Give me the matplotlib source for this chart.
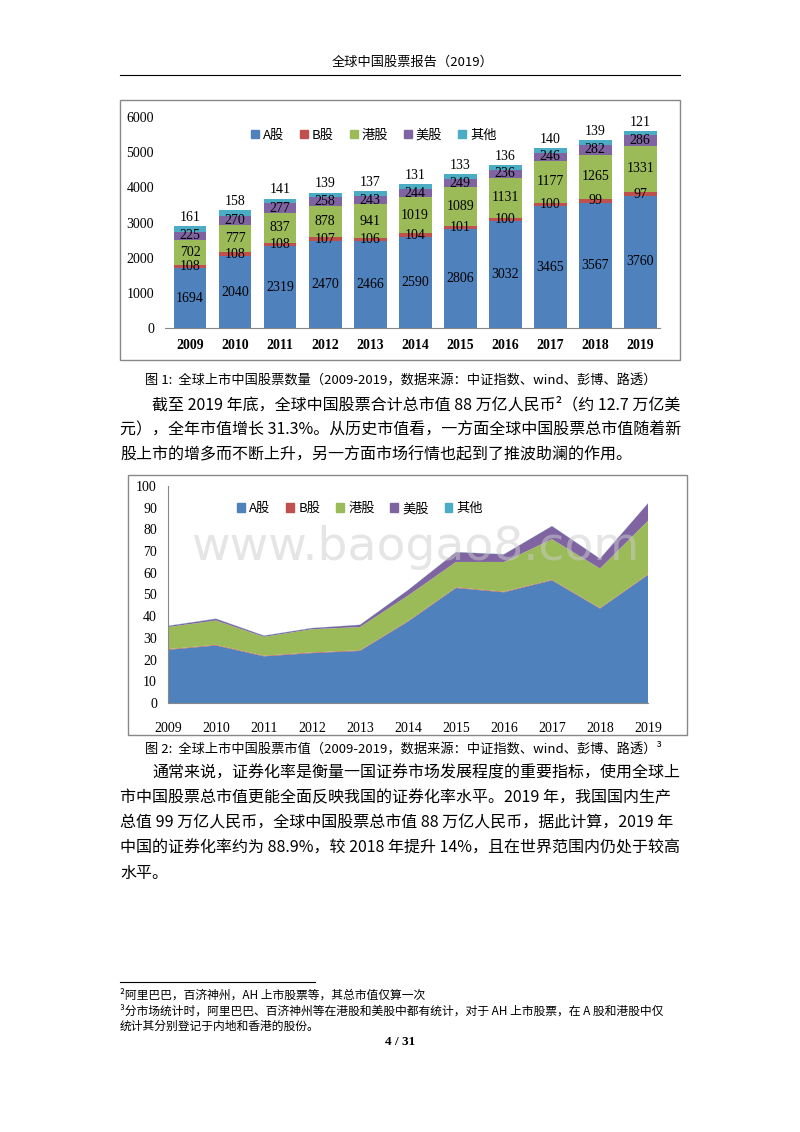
import matplotlib
matplotlib.use("Agg")
import matplotlib.pyplot as plt
from matplotlib.patches import Rectangle, Patch
import numpy as np

years = ["2009","2010","2011","2012","2013","2014","2015","2016","2017","2018","2019"]
series_names = ["A股","B股","港股","美股","其他"]
cnt_a = [1694,2040,2319,2470,2466,2590,2806,3032,3465,3567,3760]
cnt_b = [108,108,108,107,106,104,101,100,100,99,97]
cnt_hk = [702,777,837,878,941,1019,1089,1131,1177,1265,1331]
cnt_us = [225,270,277,258,243,244,249,236,246,282,286]
cnt_other = [161,158,141,139,137,131,133,136,140,139,121]

cap_a = [24.5,26.5,21.5,23,24,37.5,53,51,56.5,43.5,59]
cap_b = [0.3,0.3,0.3,0.3,0.3,0.3,0.3,0.3,0.3,0.3,0.3]
cap_hk = [10.2,11.2,8.7,10.7,10.7,11.7,11.7,13.7,18.7,18.2,24.7]
cap_us = [0.5,0.8,0.5,0.5,1.0,2.5,4.5,3.5,6.0,4.5,8.0]
cap_other = [0.1,0.1,0.1,0.1,0.1,0.1,0.1,0.1,0.1,0.1,0.1]

colors = ["#4F81BD","#C0504D","#9BBB59","#8064A2","#4BACC6"]
CJK = "Noto Sans CJK SC"
SERIF = "Liberation Serif"
W, H = 800, 1132
fig = plt.figure(figsize=(8, 11.32), dpi=100)

def fx(x): return x / W
def fy(y): return 1 - y / H
def t(x, y, s, **kw):
    kw.setdefault("fontfamily", CJK)
    kw.setdefault("fontsize", 10.5)
    kw.setdefault("va", "center")
    fig.text(fx(x), fy(y), s, **kw)

# header
t(413, 62, "全球中国股票报告（2019）", ha="center", fontsize=9.5)
fig.add_artist(plt.Line2D([fx(120), fx(680)], [fy(75), fy(75)], color="black", lw=0.8))

# frames
fig.add_artist(Rectangle((fx(120), fy(360)), fx(560), 260/H, fill=False, ec="#888888", lw=1))
fig.add_artist(Rectangle((fx(128), fy(735)), fx(559), 260/H, fill=False, ec="#888888", lw=1))

# chart 1
ax1 = fig.add_axes([fx(165), fy(328), fx(495), 211/H])
x = np.arange(len(years))
vals = [cnt_a, cnt_b, cnt_hk, cnt_us, cnt_other]
bottom = np.zeros(len(years))
for i, (v, c) in enumerate(zip(vals, colors)):
    v = np.array(v, dtype=float)
    ax1.bar(x, v, 0.73, bottom=bottom, color=c, label=series_names[i])
    for xi, b, vi in zip(x, bottom, v):
        if i == 4:
            ax1.text(xi, b + vi + 60, str(int(vi)), ha="center", va="bottom", fontfamily=SERIF, fontsize=10)
        else:
            ax1.text(xi, b + vi / 2, str(int(vi)), ha="center", va="center", fontfamily=SERIF, fontsize=10)
    bottom += v
ax1.set_xlim(-0.556, 10.44)
ax1.set_ylim(0, 6000)
ax1.set_yticks(range(0, 6001, 1000))
ax1.set_xticks(x)
ax1.set_xticklabels(years, fontfamily=SERIF, fontweight="bold", fontsize=10)
for lab in ax1.get_yticklabels():
    lab.set_fontfamily(SERIF); lab.set_fontsize(10)
ax1.tick_params(length=0, pad=8)
for s in ["top","right","left"]:
    ax1.spines[s].set_visible(False)
ax1.spines["bottom"].set_color("#888888")
ax1.legend(handles=[Patch(color=c, label=n) for c, n in zip(colors, series_names)],
           loc="upper left", bbox_to_anchor=(0.15, 1.0), ncol=5, frameon=False,
           prop={"family": CJK, "size": 9.5}, handlelength=0.6, handleheight=0.6,
           columnspacing=1.2, handletextpad=0.3)

# captions / text
t(145, 381, "图 1:  全球上市中国股票数量（2009-2019，数据来源：中证指数、wind、彭博、路透）", fontsize=9.5)
t(152, 405, "截至 2019 年底，全球中国股票合计总市值 88 万亿人民币²（约 12.7 万亿美", fontsize=11.5)
t(120, 430, "元），全年市值增长 31.3%。从历史市值看，一方面全球中国股票总市值随着新", fontsize=11.5)
t(120, 455, "股上市的增多而不断上升，另一方面市场行情也起到了推波助澜的作用。", fontsize=11.5)

# chart 2
ax2 = fig.add_axes([fx(168), fy(703), fx(480), 217/H])
caps = np.vstack([cap_a, cap_b, cap_hk, cap_us, cap_other])
ax2.stackplot(x, caps, colors=colors, labels=series_names)
ax2.set_xlim(0, 10)
ax2.set_ylim(0, 100)
ax2.set_yticks(range(0, 101, 10))
ax2.set_xticks(x)
ax2.set_xticklabels(years, fontfamily=SERIF, fontsize=10)
for lab in ax2.get_yticklabels():
    lab.set_fontfamily(SERIF); lab.set_fontsize(10)
ax2.tick_params(length=0, pad=8)
ax2.tick_params(axis="x", pad=14)
for s in ["top","right"]:
    ax2.spines[s].set_visible(False)
ax2.spines["left"].set_color("#888888")
ax2.spines["bottom"].set_color("#888888")
ax2.legend(handles=[Patch(color=c, label=n) for c, n in zip(colors, series_names)],
           loc="upper left", bbox_to_anchor=(0.12, 0.98), ncol=5, frameon=False,
           prop={"family": CJK, "size": 9.5}, handlelength=0.6, handleheight=0.6,
           columnspacing=1.2, handletextpad=0.3)
t(415, 547, "www.baogao8.com", ha="center", fontfamily="DejaVu Sans", fontsize=34, color="#cccccc", alpha=0.5)

t(145, 749, "图 2:  全球上市中国股票市值（2009-2019，数据来源：中证指数、wind、彭博、路透）³", fontsize=9.5)
lines = ["通常来说，证券化率是衡量一国证券市场发展程度的重要指标，使用全球上",
         "市中国股票总市值更能全面反映我国的证券化率水平。2019 年，我国国内生产",
         "总值 99 万亿人民币，全球中国股票总市值 88 万亿人民币，据此计算，2019 年",
         "中国的证券化率约为 88.9%，较 2018 年提升 14%，且在世界范围内仍处于较高",
         "水平。"]
for i, l in enumerate(lines):
    t(152 if i == 0 else 120, 773 + 25 * i, l, fontsize=11.5)

fig.add_artist(plt.Line2D([fx(120), fx(315)], [fy(982), fy(982)], color="black", lw=0.8))
t(120, 995, "²阿里巴巴，百济神州，AH 上市股票等，其总市值仅算一次", fontsize=8.5)
t(120, 1011, "³分市场统计时，阿里巴巴、百济神州等在港股和美股中都有统计，对于 AH 上市股票，在 A 股和港股中仅", fontsize=8.5)
t(120, 1026, "统计其分别登记于内地和香港的股份。", fontsize=8.5)
t(400, 1042, "4 / 31", ha="center", fontfamily=SERIF, fontweight="bold", fontsize=9.5)

fig.savefig("out.png", dpi=100)
